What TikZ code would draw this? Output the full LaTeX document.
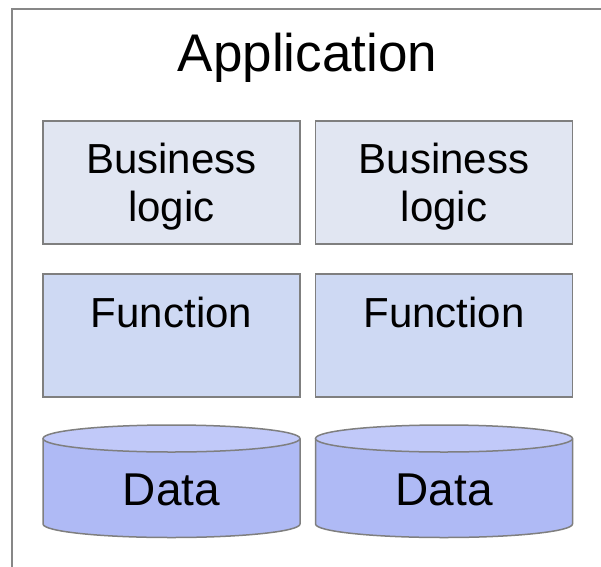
\documentclass[tikz,border=0pt]{standalone}
\usepackage{fontspec}
\setmainfont{Liberation Sans}
\usepackage{tikz}
\usetikzlibrary{positioning,calc}
\definecolor{framegray}{HTML}{878787}
\definecolor{edgegray}{HTML}{7F7F7F}
\definecolor{bizfill}{HTML}{E1E6F2}
\definecolor{funcfill}{HTML}{CED9F3}
\definecolor{databody}{HTML}{AFBAF5}
\definecolor{datatop}{HTML}{C1C9F9}
\tikzset{
  layerbox/.style = {draw=edgegray,line width=1.5pt,minimum width=257pt,minimum height=123pt,inner sep=0pt},
  lbl/.style = {inner sep=0pt,font=\fontsize{42}{48}\selectfont,align=center},
  datalbl/.style = {inner sep=0pt,font=\fontsize{46}{52}\selectfont},
  cyl/.style = {draw=edgegray,line width=1.5pt}
}

\begin{document}
\begin{tikzpicture}[x=1pt,y=1pt]
    \useasboundingbox (0,0) rectangle (601,566);
    \clip (0,0) rectangle (601,566);
    \fill [white] (0,0) rectangle (601,566);
    % outer application frame
    \draw [framegray,line width=2pt] (12,-20) rectangle (640,557);
    \node [inner sep=0pt,anchor=base,font=\fontsize{53}{60}\selectfont] (app) at (307.5,494) {Application};
    % business logic and function boxes
    \node [layerbox,fill=bizfill] (biz1) at (171.5,383.5) {};
    \node [layerbox,fill=bizfill] (biz2) at (444,383.5) {};
    \node [layerbox,fill=funcfill] (fn1) at (171.5,230.5) {};
    \node [layerbox,fill=funcfill] (fn2) at (444,230.5) {};
    \node [lbl] (bizlbl1) at ([yshift=-4pt]biz1.center) {Business\\logic};
    \node [lbl] (bizlbl2) at ([yshift=-4pt]biz2.center) {Business\\logic};
    \node [lbl,anchor=base] (fnlbl1) at ([yshift=-54pt]fn1.north) {Function};
    \node [lbl,anchor=base] (fnlbl2) at ([yshift=-54pt]fn2.north) {Function};
    % data stores
    \foreach \cx/\name in {171.5/data1,444/data2} {
      \coordinate (\name top) at (\cx,127.5);
      \coordinate (\name bot) at (\cx,42);
      \fill [databody] ($(\name top)+(-128.5,0)$) -- ($(\name bot)+(-128.5,0)$)
        arc [start angle=180,end angle=360,x radius=128.5,y radius=13.5]
        -- ($(\name top)+(128.5,0)$) -- cycle;
      \draw [cyl] ($(\name top)+(-128.5,0)$) -- ($(\name bot)+(-128.5,0)$)
        arc [start angle=180,end angle=360,x radius=128.5,y radius=13.5]
        -- ($(\name top)+(128.5,0)$);
      \draw [cyl,fill=datatop] (\name top) ellipse [x radius=128.5,y radius=13.5];
      \node [datalbl,anchor=base] (\name lbl) at (\cx,61) {Data};
    }
\end{tikzpicture}
\end{document}
